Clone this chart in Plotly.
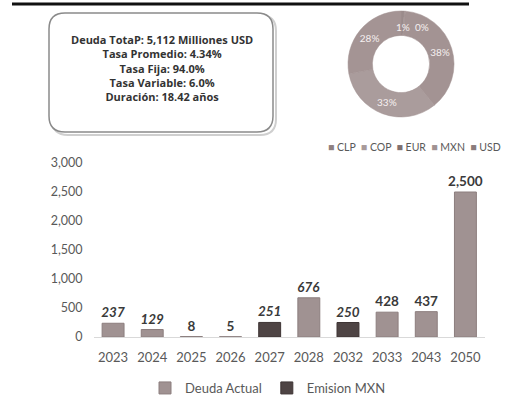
import plotly.graph_objects as go

# ---- data ----
years = ["2023", "2024", "2025", "2026", "2027", "2028", "2032", "2033", "2043", "2050"]
deuda_actual = [237, 129, 8, 5, None, 676, None, 428, 437, 2500]
emision_mxn = [None, None, None, None, 251, None, 250, None, None, None]
italic_years = ["2023", "2024", "2027", "2028", "2032"]

currencies = ["CLP", "COP", "EUR", "MXN", "USD"]
currency_share = [1.0, 0.3, 38.0, 33.0, 28.0]

summary_lines = [
    "Deuda TotaP: 5,112 Milliones USD",
    "Tasa Promedio: 4.34%",
    "Tasa Fija: 94.0%",
    "Tasa Variable: 6.0%",
    "Duración: 18.42 años",
]

W, H = 505, 403
FONT = "Lato"
pie_colors = ["#8e8080", "#a89a9a", "#7f7070", "#a09292", "#8a7b7b"]
ring_colors = ["#9a8b8b", "#a89a9a", "#a39393", "#aa9c9c", "#a49494"]


def px(x):
    return x / W


def py(y):
    return 1 - y / H


def label(vals):
    out = []
    for yr, v in zip(years, vals):
        if v is None:
            out.append("")
        else:
            s = f"{v:,}"
            out.append(f"<i>{s}</i>" if yr in italic_years else s)
    return out


total_share = sum(currency_share)
pct_text = [f"{round(100 * v / total_share):d}%" for v in currency_share]
small = [v / total_share < 0.02 for v in currency_share]

fig = go.Figure()

for name, vals, col, lcol in [("Deuda Actual", deuda_actual, "#a09292", "#8c7e7e"),
                              ("Emision MXN", emision_mxn, "#4e4444", "#3e3535")]:
    fig.add_trace(go.Bar(
        x=years, y=vals, name=name,
        marker=dict(color=col, line=dict(color=lcol, width=1)),
        text=label(vals), textposition="outside", cliponaxis=False,
        constraintext="none",
        textfont=dict(family=FONT, size=13.5, color="#3a3a3a", weight="bold"),
        width=0.56,
    ))

fig.add_trace(go.Pie(
    labels=currencies, values=currency_share, hole=0.54, sort=False,
    direction="clockwise", rotation=0,
    marker=dict(colors=ring_colors, line=dict(color="#a09090", width=0.5)),
    text=["" if s else t for s, t in zip(small, pct_text)],
    textinfo="text", textposition="inside",
    insidetextorientation="horizontal",
    textfont=dict(family=FONT, size=10, color="#f6f0f0"),
    domain=dict(x=[px(348), px(454)], y=[py(117), py(11)]),
    showlegend=False,
))


def rounded(x0, y0, x1, y1, r):
    rx, ry = r / W, r / H
    X0, X1 = px(x0), px(x1)
    Y0, Y1 = py(y0), py(y1)
    return (f"M {X0+rx},{Y0} L {X1-rx},{Y0} Q {X1},{Y0} {X1},{Y0-ry} "
            f"L {X1},{Y1+ry} Q {X1},{Y1} {X1-rx},{Y1} "
            f"L {X0+rx},{Y1} Q {X0},{Y1} {X0},{Y1+ry} "
            f"L {X0},{Y0-ry} Q {X0},{Y0} {X0+rx},{Y0} Z")


shapes = [
    dict(type="path", xref="paper", yref="paper", path=rounded(52, 15, 276, 135, 16),
         line=dict(color="#cfcfcf", width=2), fillcolor="rgba(0,0,0,0)", layer="below"),
    dict(type="path", xref="paper", yref="paper", path=rounded(49, 13, 273, 132, 16),
         line=dict(color="#8a8a8a", width=1.5), fillcolor="white", layer="below"),
    dict(type="line", xref="paper", yref="paper", x0=px(12), x1=px(469), y0=py(4), y1=py(4),
         line=dict(color="#111111", width=3)),
]

annotations = [
    dict(xref="paper", yref="paper", x=px(162), y=py(68), xanchor="center", yanchor="middle",
         text="<br>".join(f"<b>{s}</b>" for s in summary_lines), showarrow=False,
         align="center", font=dict(family="Open Sans", size=11, color="#333333")),
]

# small-slice labels of the donut
small_pos = [(403, 27), (422, 27)]
k = 0
for s, t in zip(small, pct_text):
    if s:
        annotations.append(dict(xref="paper", yref="paper", x=px(small_pos[k][0]), y=py(small_pos[k][1]),
                                text=t, showarrow=False, xanchor="center", yanchor="middle",
                                font=dict(family=FONT, size=10, color="#f6f0f0")))
        k += 1

# donut legend
legend_text = "  ".join(
    f"<span style='color:{c}'>■</span> {n}" for n, c in zip(currencies, pie_colors)
)
annotations.append(dict(xref="paper", yref="paper", x=px(503), y=py(147), xanchor="right",
                        yanchor="middle", text=legend_text, showarrow=False,
                        font=dict(family=FONT, size=10.5, color="#595959")))

fig.update_layout(
    width=W, height=H, margin=dict(l=0, r=0, t=0, b=0, autoexpand=False),
    paper_bgcolor="white", plot_bgcolor="white",
    barmode="overlay",
    shapes=shapes, annotations=annotations,
    font=dict(family=FONT, color="#595959"),
    xaxis=dict(domain=[px(93.5), px(485)], type="category", showgrid=False,
               showline=True, linecolor="#d9d9d9", linewidth=1, ticks="",
               tickfont=dict(family=FONT, size=13, color="#595959"),
               tickangle=0, ticklabelstandoff=8),
    yaxis=dict(domain=[py(337), py(163)], range=[0, 3000], dtick=500,
               tickformat=",", showgrid=False, zeroline=False, ticks="",
               tickfont=dict(family=FONT, size=12.5, color="#595959"),
               ticklabelstandoff=10),
    legend=dict(orientation="h", x=px(268), xanchor="center", y=py(388), yanchor="middle",
                font=dict(family=FONT, size=13, color="#595959"), itemwidth=30,
                traceorder="normal"),
)

fig.write_html("out.html", config={"displayModeBar": False},
               post_script="document.body.style.margin='0';document.body.style.overflow='hidden';")
